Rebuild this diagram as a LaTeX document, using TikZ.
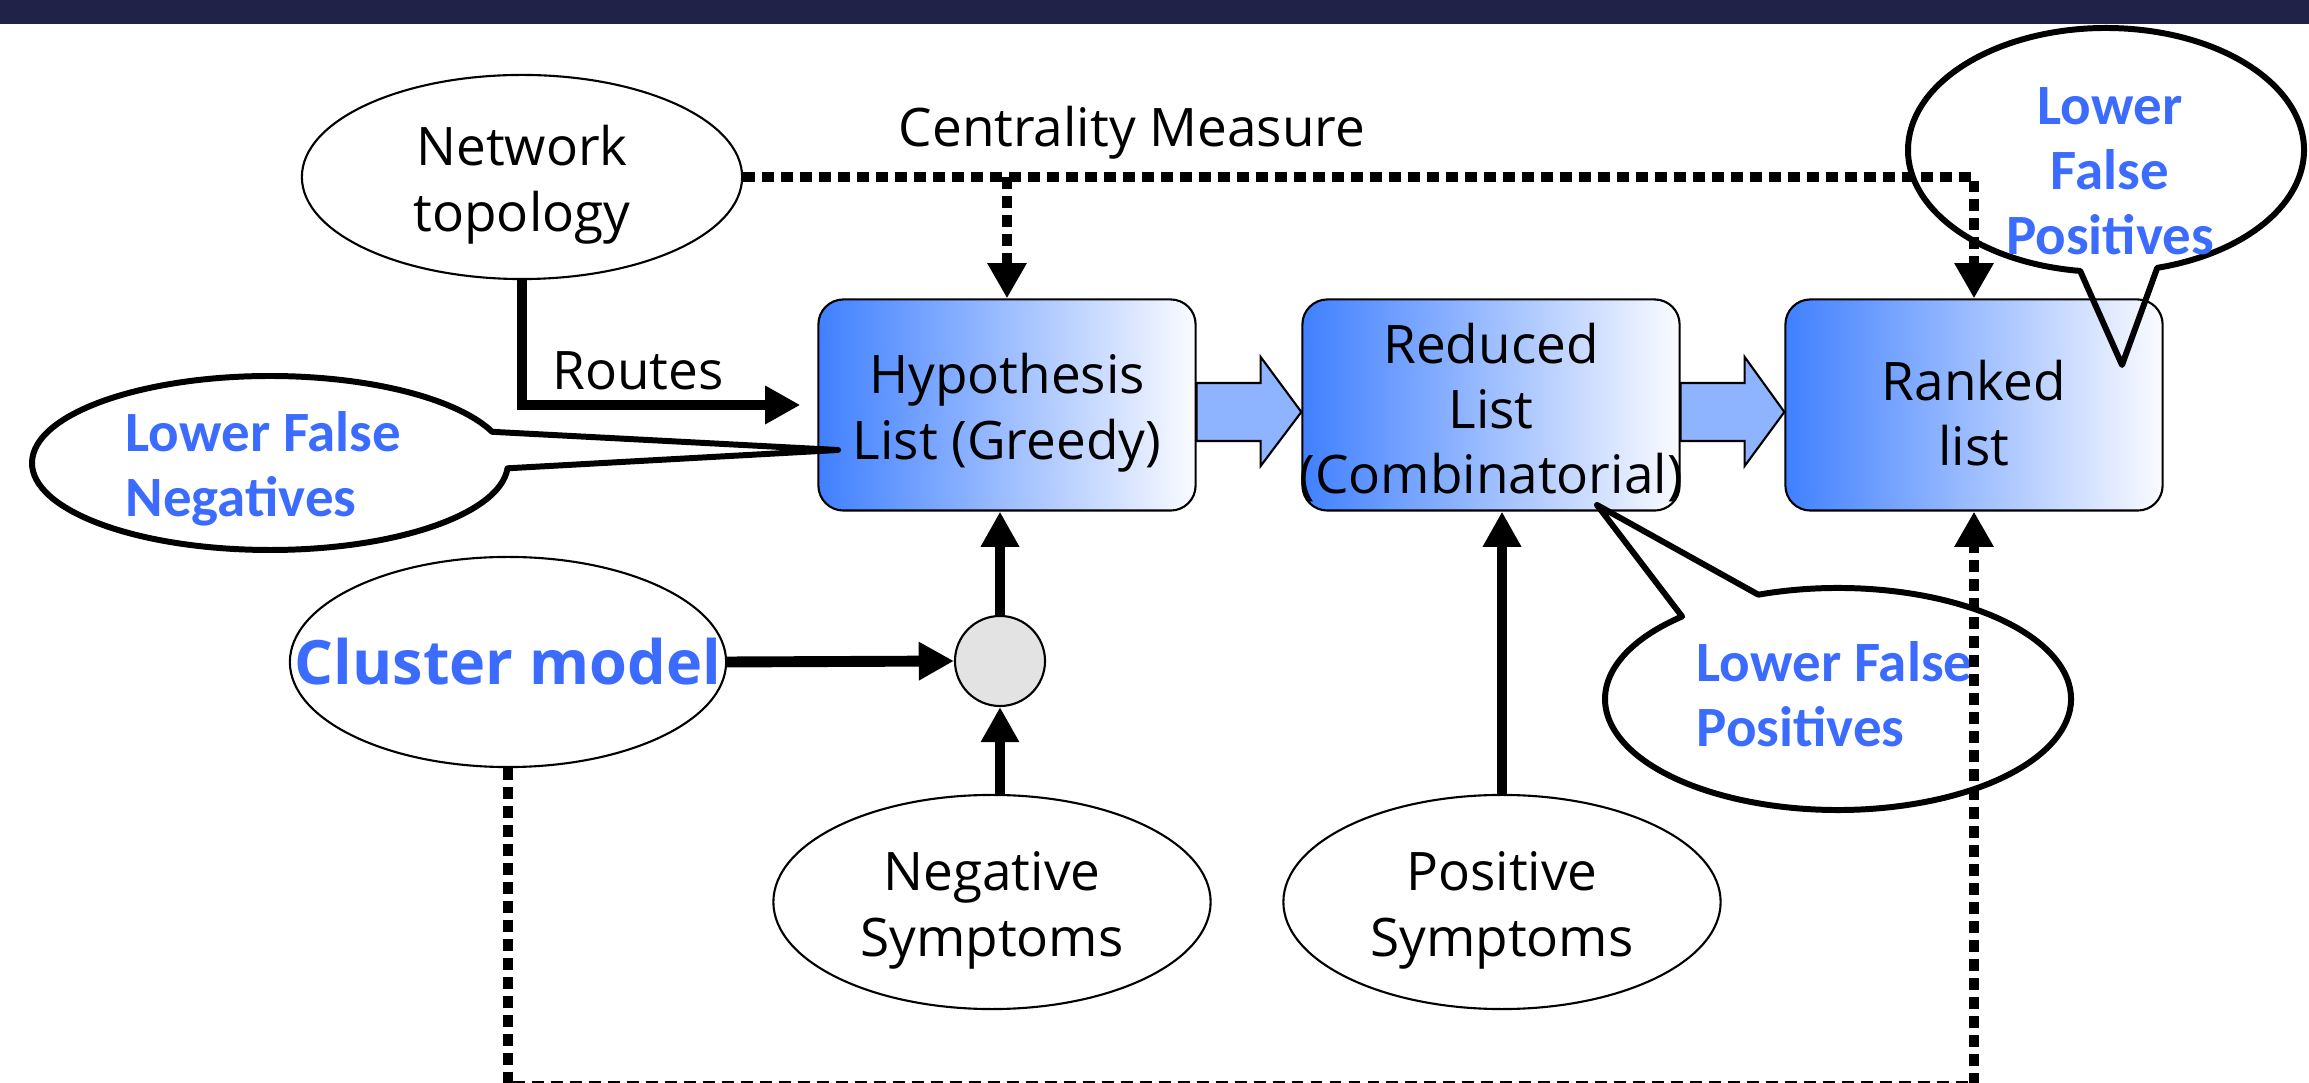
\documentclass[tikz,border=0pt]{standalone}
\usepackage{fontspec}
\setmainfont{Open Sans}
\newfontfamily\callfont{Carlito}
\usetikzlibrary{arrows.meta,calc,shapes.geometric}
\definecolor{barnavy}{RGB}{33,34,72}
\definecolor{calblue}{RGB}{59,108,255}
\definecolor{boxblue}{RGB}{64,128,255}
\definecolor{boxwhite}{RGB}{250,251,255}
\definecolor{arrowblue}{RGB}{143,180,255}
\definecolor{junctgray}{RGB}{227,227,227}
\newcommand{\lift}{\rule{0pt}{1.05em}}
\tikzset{
  txt/.style={font=\fontsize{15.1pt}{18.5pt}\selectfont, inner sep=0, align=center},
  oval/.style={ellipse, draw, line width=0.6pt, inner sep=0, align=center,
    font=\fontsize{15.1pt}{18.5pt}\selectfont},
  box/.style={rectangle, rounded corners=0.25cm, draw, line width=0.6pt,
    left color=boxblue, right color=boxwhite, minimum width=3.77cm,
    minimum height=2.11cm, inner sep=0, align=center,
    font=\fontsize{15.1pt}{18.5pt}\selectfont},
  blockarr/.style={fill=arrowblue, draw, line width=0.6pt, line join=miter},
  solidarr/.style={line width=3.1pt, -{Triangle[length=10pt,width=10.3pt]}},
  dotline/.style={line width=2.85pt, dash pattern=on 3.4pt off 2pt},
  dotarr/.style={dotline, -{Triangle[length=10pt,width=10.5pt]}},
  callout/.style={line width=1.7pt, line join=round},
  calltext/.style={font=\callfont\bfseries\fontsize{16.2pt}{18.5pt}\selectfont,
    text=calblue, inner sep=0}
}
\begin{document}
\begin{tikzpicture}[x=0.01cm, y=-0.01cm]
\useasboundingbox (0,0) rectangle (2309,1083);
\fill[barnavy] (0,0) rectangle (2309,24);

% main boxes
\node[box] (hyp) at (1007,405) {\lift Hypothesis\\List (Greedy)};
\node[box] (red) at (1491,405) {\lift Reduced\\List\\\makebox[0pt]{(Combinatorial)}};
\node[box] (rank) at (1974,405) {\lift Ranked\\list};

% block arrows between boxes
\draw[blockarr] ($(hyp.east)+(0,-22)$) -- ++(64,0) -- ++(0,-26) -- ($(red.west)+(0,7)$)
  -- ($(hyp.east)+(64,61)$) -- ++(0,-25) -- ($(hyp.east)+(0,36)$) -- cycle;
\draw[blockarr] ($(red.east)+(0,-22)$) -- ++(64,0) -- ++(0,-26) -- ($(rank.west)+(0,7)$)
  -- ($(red.east)+(64,61)$) -- ++(0,-25) -- ($(red.east)+(0,36)$) -- cycle;

% ellipses
\node[oval, minimum width=4.4cm, minimum height=2.04cm] (net) at (522,177) {\lift Network\\topology};
\node[oval, minimum width=4.36cm, minimum height=2.1cm] (clus) at (508,662) {};
\node[font=\bfseries\fontsize{17.4pt}{20pt}\selectfont, text=calblue, inner sep=0] (clustxt) at (clus.center) {Cluster model};
\node[oval, minimum width=4.37cm, minimum height=2.14cm] (neg) at (992,902) {\lift Negative\\Symptoms};
\node[oval, minimum width=4.37cm, minimum height=2.14cm] (pos) at (1502,902) {\lift Positive\\Symptoms};
\node[circle, draw, fill=junctgray, minimum size=0.9cm, inner sep=0, line width=0.6pt] (junc) at (1000,661) {};

% labels
\node[txt, anchor=base] (cent) at (1132,147) {Centrality Measure};
\node[txt, anchor=base] (routes) at (638,390) {Routes};

% callouts
\coordinate (lfnc) at (270,463);
\coordinate (lfntip) at (838,450);
\draw[callout] ($(lfnc)+(3.5:238 and 87)$) arc[start angle=3.5, end angle=339, x radius=238, y radius=87] -- (lfntip) -- cycle;
\coordinate (topc) at (2106,150);
\coordinate (toptip) at (2122,365);
\draw[callout] ($(topc)+(97.5:198 and 122)$) arc[start angle=97.5, end angle=435, x radius=198, y radius=122] -- (toptip) -- cycle;
\coordinate (botc) at (1838,699);
\coordinate (bottip) at (1597,505);
\draw[callout] ($(botc)+(250:233 and 111)$) arc[start angle=250, end angle=588, x radius=233, y radius=111] -- (bottip) -- cycle;

\node[calltext, anchor=base west, align=left] (lfntxt) at (125,517) {Lower False\\Negatives};
\node[calltext, anchor=base, align=center] (toptxt) at (2110,255) {Lower\\False\\Positives};
\node[calltext, anchor=base west, align=left] (bottxt) at (1696,747) {Lower False\\Positives};

% solid connectors
\draw[solidarr, shorten >=0.17cm] (net.south) |- (hyp.west);
\draw[solidarr] (clus.east) -- (junc.west);
\draw[solidarr] (junc.north) -- (hyp.south -| junc.north);
\draw[solidarr] (neg.north -| junc.south) -- (junc.south);
\draw[solidarr] (pos.north) -- (pos.north |- red.south);

% dotted connectors
\draw[dotarr] (net.east) -| (rank.north);
\draw[dotarr] (hyp.north |- net.east) -- (hyp.north);
\coordinate (bot) at (1240,1086);
\draw[dotarr] (clus.south) |- (bot) -| (rank.south);
\end{tikzpicture}
\end{document}
